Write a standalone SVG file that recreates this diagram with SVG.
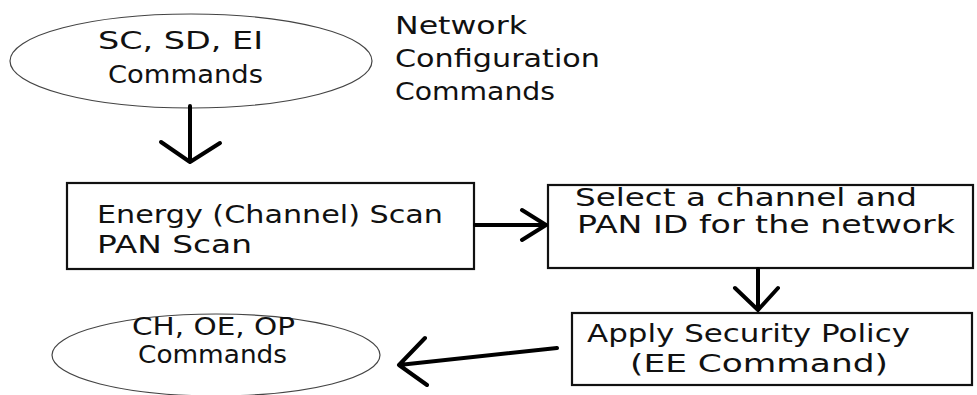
<svg xmlns="http://www.w3.org/2000/svg" width="977" height="395" viewBox="0 0 977 395">
<style>
  .bg { fill: #ffffff; }
  .ell { fill: #ffffff; stroke: #444444; stroke-width: 1.2; }
  .box { fill: #ffffff; stroke: #111111; stroke-width: 2.2; }
  .t { font-family: "DejaVu Sans", "Liberation Sans", sans-serif; font-size: 25px; fill: #111111; }
  .ln { fill: none; stroke: #000000; stroke-width: 4; stroke-linecap: round; stroke-linejoin: round; }
</style>
<rect class="bg" x="0" y="0" width="977" height="395"/>

<g id="node-sc-sd-ei">
  <ellipse class="ell" cx="191" cy="61" rx="181" ry="47"/>
  <text class="t" x="98" y="49" textLength="165" lengthAdjust="spacingAndGlyphs">SC, SD, EI</text>
  <text class="t" x="108" y="83" textLength="155" lengthAdjust="spacingAndGlyphs">Commands</text>
</g>

<g id="label-network-config">
  <text class="t" x="395" y="34" textLength="132" lengthAdjust="spacingAndGlyphs">Network</text>
  <text class="t" x="395" y="67" textLength="205" lengthAdjust="spacingAndGlyphs">Configuration</text>
  <text class="t" x="395" y="100" textLength="160" lengthAdjust="spacingAndGlyphs">Commands</text>
</g>

<g id="node-scan">
  <rect class="box" x="67" y="183" width="407" height="86"/>
  <text class="t" x="97" y="223" textLength="346" lengthAdjust="spacingAndGlyphs">Energy (Channel) Scan</text>
  <text class="t" x="97" y="253" textLength="155" lengthAdjust="spacingAndGlyphs">PAN Scan</text>
</g>

<g id="node-select">
  <rect class="box" x="548" y="185" width="425" height="83"/>
  <text class="t" x="575" y="206" textLength="342" lengthAdjust="spacingAndGlyphs">Select a channel and</text>
  <text class="t" x="577" y="233" textLength="378" lengthAdjust="spacingAndGlyphs">PAN ID for the network</text>
</g>

<g id="node-security">
  <rect class="box" x="572" y="313" width="400" height="72"/>
  <text class="t" x="587" y="342" textLength="323" lengthAdjust="spacingAndGlyphs">Apply Security Policy</text>
  <text class="t" x="630" y="372" textLength="258" lengthAdjust="spacingAndGlyphs">(EE Command)</text>
</g>

<g id="node-ch-oe-op">
  <ellipse class="ell" cx="216" cy="355" rx="164" ry="41"/>
  <text class="t" x="132" y="335" textLength="163" lengthAdjust="spacingAndGlyphs">CH, OE, OP</text>
  <text class="t" x="138" y="363" textLength="149" lengthAdjust="spacingAndGlyphs">Commands</text>
</g>

<g id="connectors">
  <path class="ln" d="M190 106 L190 162 M161 142 L190 162 L220 143"/>
  <path class="ln" d="M475 225 L546 225 M522 210 L546 225 L522 240"/>
  <path class="ln" d="M758 269 L758 310 M735 288 L758 310 L778 288"/>
  <path class="ln" d="M557 348 L399 365 M425 338 L399 365 L427 385"/>
</g>
</svg>
